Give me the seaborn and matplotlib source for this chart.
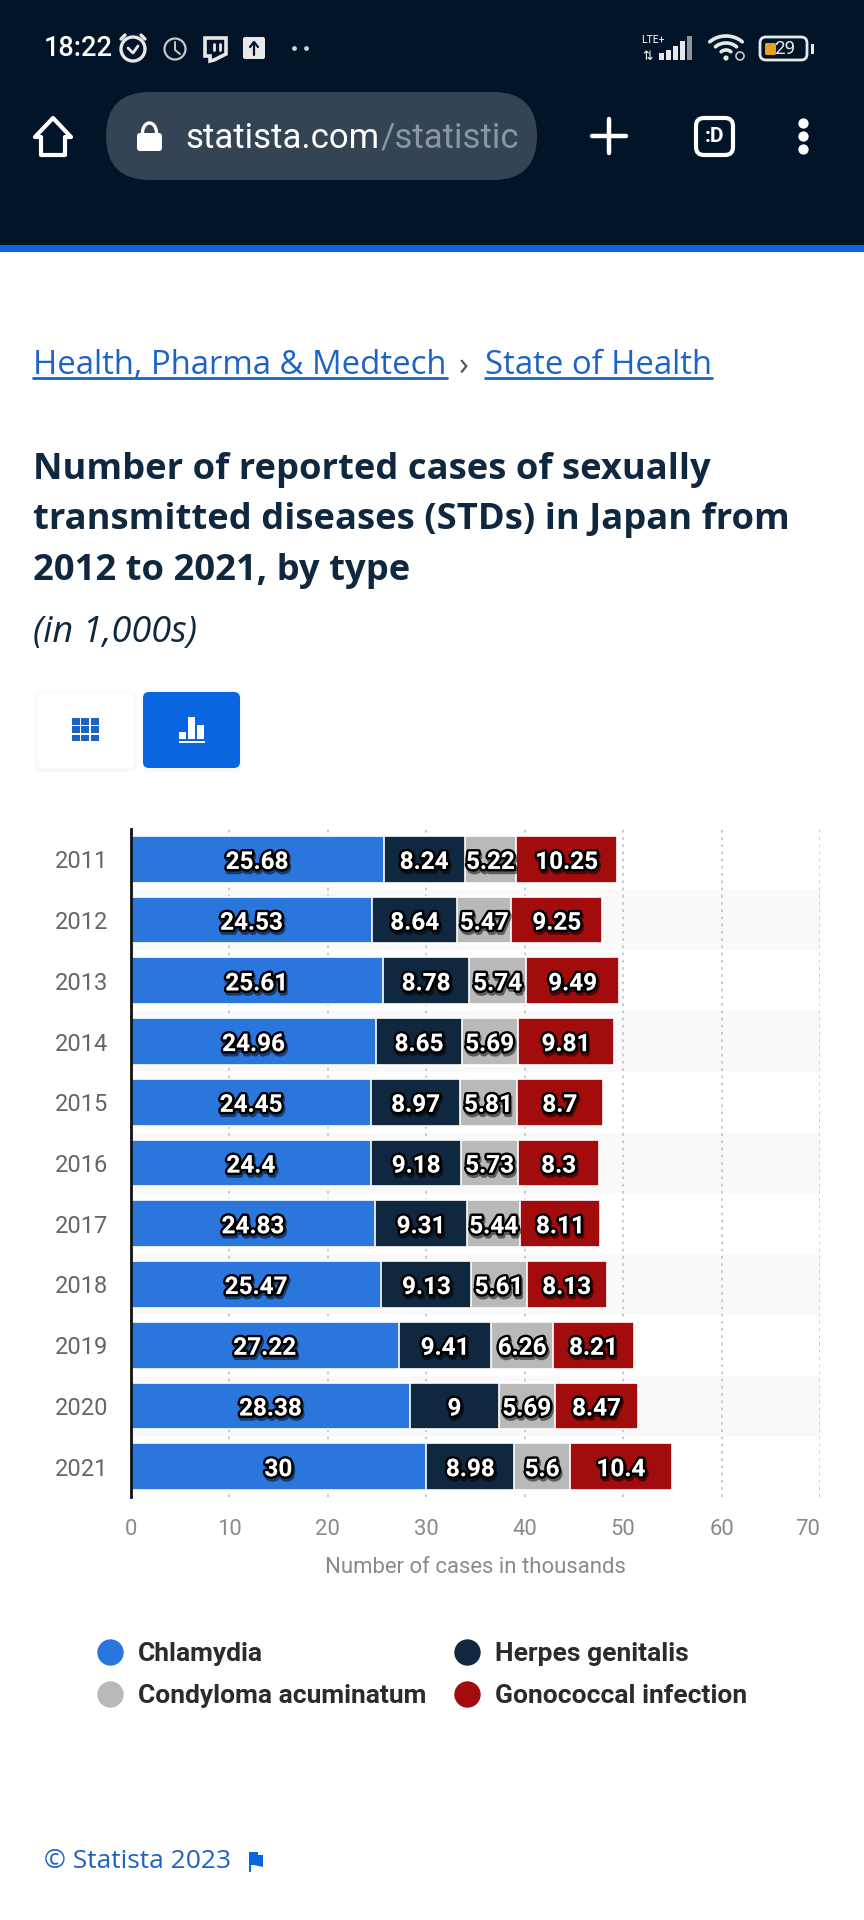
import matplotlib
matplotlib.use('Agg')
import matplotlib.pyplot as plt
import matplotlib.patheffects as pe
from matplotlib.lines import Line2D
from matplotlib.patches import Circle, FancyBboxPatch, Polygon, Rectangle
import numpy as np
import pandas as pd
import seaborn as sns

years = ['2011', '2012', '2013', '2014', '2015', '2016', '2017', '2018', '2019', '2020', '2021']
chlamydia = [25.68, 24.53, 25.61, 24.96, 24.45, 24.4, 24.83, 25.47, 27.22, 28.38, 30]
herpes = [8.24, 8.64, 8.78, 8.65, 8.97, 9.18, 9.31, 9.13, 9.41, 9, 8.98]
condyloma = [5.22, 5.47, 5.74, 5.69, 5.81, 5.73, 5.44, 5.61, 6.26, 5.69, 5.6]
gonococcal = [10.25, 9.25, 9.49, 9.81, 8.7, 8.3, 8.11, 8.13, 8.21, 8.47, 10.4]

series_names = ['Chlamydia', 'Herpes genitalis', 'Condyloma acuminatum', 'Gonococcal infection']
series_values = [chlamydia, herpes, condyloma, gonococcal]
series_colors = ['#2b76dd', '#10283f', '#b9b9b9', '#a20c0c']
x_ticks = [0, 10, 20, 30, 40, 50, 60, 70]

sns.set_style('white')
plt.rcParams['font.family'] = ['Roboto', 'DejaVu Sans']

W, H = 864, 1920
fig = plt.figure(figsize=(W / 100, H / 100), dpi=100, facecolor='white')

# page around the chart, in pixel coordinates
bg = fig.add_axes([0, 0, 1, 1])
bg.set_xlim(0, W)
bg.set_ylim(H, 0)
bg.axis('off')

DARK = '#011428'
BLUE = '#0a66e0'
LINK = '#1d63c5'
NAVY = '#10283f'


def box(x0, y0, x1, y1, r, **kw):
    bg.add_patch(FancyBboxPatch((x0 + r, y0 + r), x1 - x0 - 2 * r, y1 - y0 - 2 * r,
                                boxstyle=f'round,pad={r},rounding_size={r}', **kw))


bg.add_patch(Rectangle((0, 0), W, 245, color=DARK, lw=0))
bg.add_patch(Rectangle((0, 245), W, 7, color=BLUE, lw=0))

# status bar
bg.text(44, 49, '18:22', color='white', fontsize=19.5, va='center', family='Roboto', weight='medium')
bg.add_patch(Circle((133, 49), 12, fc='none', ec='#e8e8e8', lw=2.4))
bg.plot([125, 121], [35, 39], color='#e8e8e8', lw=2.4)
bg.plot([141, 145], [35, 39], color='#e8e8e8', lw=2.4)
bg.plot([128, 133, 138], [48, 53, 46], color='#e8e8e8', lw=2)
bg.add_patch(Circle((175, 49), 10.5, fc='none', ec='#c8c8c8', lw=1.6))
bg.plot([175, 175, 180], [42, 50, 54], color='#c8c8c8', lw=1.4)
bg.add_patch(Polygon([[205, 38], [226, 38], [226, 54], [214, 60], [210, 61], [210, 56], [205, 56]],
                     fc='none', ec='#e8e8e8', lw=2.6))
bg.plot([214, 214], [44, 50], color='#e8e8e8', lw=2)
bg.plot([220, 220], [44, 50], color='#e8e8e8', lw=2)
box(243, 37, 265, 59, 2, fc='#e8e8e8', ec='none')
bg.plot([254, 254], [43, 55], color=DARK, lw=1.6)
bg.plot([250, 254, 258], [47, 42, 47], color=DARK, lw=1.6)
bg.scatter([294, 306], [48, 48], s=12, color='#d0d0d0', lw=0)
bg.text(641, 40, 'LTE+', color='white', fontsize=7.5, va='center')
for i, hgt in enumerate([7, 10, 14, 19, 24]):
    col = '#8a95a0' if i == 4 else '#e8e8e8'
    bg.add_patch(Rectangle((659 + i * 7, 60 - hgt), 4.5, hgt, color=col, lw=0))
bg.text(648, 56, '⇅', color='white', fontsize=9, va='center', ha='center', family='DejaVu Sans')
for r in [20, 13, 6]:
    t = np.linspace(np.radians(225), np.radians(315), 20)
    bg.plot(726 + r * 1.15 * np.cos(t), 60 + r * 1.0 * np.sin(t) - 4, color='#e8e8e8', lw=2.6)
bg.add_patch(Circle((726, 58), 2.6, color='#e8e8e8', lw=0))
bg.add_patch(Circle((740, 56), 4, fc='none', ec='#c8c8c8', lw=1.2))
box(760, 37, 807, 60, 6, fc='none', ec='#e8e8e8', lw=2)
box(765, 43, 776, 55, 1.5, fc='#e8a020', ec='none')
bg.text(785, 49, '29', color='#e8e8e8', fontsize=13.5, va='center', ha='center')
bg.add_patch(Rectangle((811, 44), 2.5, 10, color='#e8e8e8', lw=0))

# browser bar
bg.add_patch(Polygon([[53, 118], [71, 137], [65, 137], [65, 155], [41, 155], [41, 137], [35, 137]],
                     fc='none', ec='white', lw=3, joinstyle='round'))
box(106, 92, 537, 180, 44, fc='#344454', ec='none')
box(137, 133, 162, 151, 3, fc='white', ec='none')
t = np.linspace(np.pi, 2 * np.pi, 20)
bg.plot(149.5 + 7 * np.cos(t), 133 + 10 * np.sin(t), color='white', lw=2.4)
bg.text(185, 138, 'statista.com', color='white', fontsize=25, va='center', family='Roboto')
bg.text(381, 138, '/statistic', color='#8b96a0', fontsize=25, va='center', family='Roboto')
bg.plot([592, 626], [136, 136], color='white', lw=3.2)
bg.plot([609, 609], [119, 153], color='white', lw=3.2)
box(696, 118, 733, 155, 8, fc='none', ec='white', lw=3)
bg.text(714.5, 136, ':D', color='white', fontsize=15, va='center', ha='center', weight='bold')
bg.scatter([803, 803, 803], [123, 136, 149], s=55, color='white', lw=0)

# breadcrumb
crumb_font = dict(family='Open Sans', fontsize=23.7, color=LINK, va='center')
bg.text(33, 366, 'Health, Pharma & Medtech', **crumb_font)
bg.text(459, 366, '›', family='Open Sans', fontsize=23.7, color='#44586a', va='center')
bg.text(485, 366, 'State of Health', **crumb_font)
bg.plot([33, 447], [378, 378], color=LINK, lw=2)
bg.plot([485, 712], [378, 378], color=LINK, lw=2)

# title
title_lines = ['Number of reported cases of sexually',
               'transmitted diseases (STDs) in Japan from',
               '2012 to 2021, by type']
for line, y in zip(title_lines, [470, 520.5, 571]):
    bg.text(33, y, line, family='Open Sans', weight='bold', fontsize=26.2, color=NAVY, va='center')
bg.text(33, 633, '(in 1,000s)', family='Open Sans', style='italic', fontsize=26, color=NAVY, va='center')

# table / chart buttons
box(35, 691, 137, 772, 8, fc='#f5f5f5', ec='none', alpha=0.6)
box(141, 691, 243, 772, 8, fc='#f5f5f5', ec='none', alpha=0.6)
box(38, 692, 134, 768, 6, fc='white', ec='none')
box(143, 692, 240, 768, 6, fc=BLUE, ec='none')
for row in range(3):
    for col in range(3):
        bg.add_patch(Rectangle((72 + col * 9.4, 718 + row * 8.3), 8, 6.8, color=LINK, lw=0))
for x0, top in [(179, 732), (188, 717), (197, 725)]:
    bg.add_patch(Rectangle((x0, top), 7, 739 - top, color='white', lw=0))
bg.add_patch(Rectangle((179, 741), 26, 2.4, color='white', lw=0))

# chart
ax = fig.add_axes([130.6 / W, 1 - 1497 / H, (820 - 130.6) / W, 668 / H])
ax.patch.set_alpha(0)

df = pd.DataFrame({'year': years})
stacked = np.cumsum(np.array(series_values, dtype=float), axis=0)
# longest total first, each shorter one painted over it
for i in reversed(range(len(series_names))):
    df['total'] = stacked[i]
    sns.barplot(data=df, x='total', y='year', order=years, orient='h', color=series_colors[i],
                saturation=1, width=0.77, edgecolor='white', linewidth=1.2, ax=ax)

for i in range(1, len(years), 2):
    ax.axhspan(i - 0.5, i + 0.5, color='#f9f9f9', lw=0, zorder=0)

ax.set_xlim(0, 70)
ax.set_ylim(10.5, -0.5)
ax.set_xticks(x_ticks)
ax.set_axisbelow(True)
ax.grid(axis='x', color='#c6c6c6', lw=1.3, ls=(0, (1.5, 2.5)))
ax.grid(axis='y', visible=False)
sns.despine(ax=ax, top=True, right=True, bottom=True, left=False)
ax.spines['left'].set_color('#111111')
ax.spines['left'].set_linewidth(2)
ax.tick_params(axis='y', length=0, pad=16, labelsize=17, labelcolor='#666666')
ax.tick_params(axis='x', length=0, pad=16, labelsize=15.9, labelcolor='#8a8a8a')
ax.get_xticklabels()[-1].set_ha('right')
ax.set_ylabel('')
ax.set_xlabel('Number of cases in thousands', fontsize=15.9, color='#8a8a8a', labelpad=12)

shadow = [pe.withStroke(linewidth=3.6, foreground='black'),
          pe.SimpleLineShadow(offset=(1, -2), shadow_color='black', alpha=0.5, linewidth=3.6),
          pe.Normal()]
for s in range(len(series_names)):
    for r, val in enumerate(series_values[s]):
        start = stacked[s - 1][r] if s else 0
        ax.text(start + val / 2, r + 0.05, f'{val:g}', color='white', fontsize=17.5, weight='bold',
                ha='center', va='center', path_effects=shadow)

# legend is read column by column
order = [0, 2, 1, 3]
handles = [Line2D([], [], ls='', marker='o', ms=19, mec='none', mfc=series_colors[i],
                  label=series_names[i]) for i in order]
leg = ax.legend(handles=handles, ncol=2, loc='upper left', bbox_to_anchor=(97 / W, 1 - 1642.5 / H),
                bbox_transform=fig.transFigure, frameon=False, handlelength=1, handletextpad=0.55,
                labelspacing=0.66, columnspacing=1.05, borderpad=0, borderaxespad=0,
                prop=dict(family='Roboto', weight='bold', size=19))
for text in leg.get_texts():
    text.set_color('#2b2b2b')

# footer
bg.text(44, 1862, '© Statista 2023', family='Open Sans', fontsize=19, color=LINK, va='center')
bg.add_patch(Polygon([[249, 1852], [258, 1852], [258, 1855], [263, 1855], [263, 1867], [254, 1865], [251, 1865], [251, 1872], [249, 1872]],
                     color=BLUE, lw=0))

fig.savefig('out.png', dpi=100, facecolor='white')
